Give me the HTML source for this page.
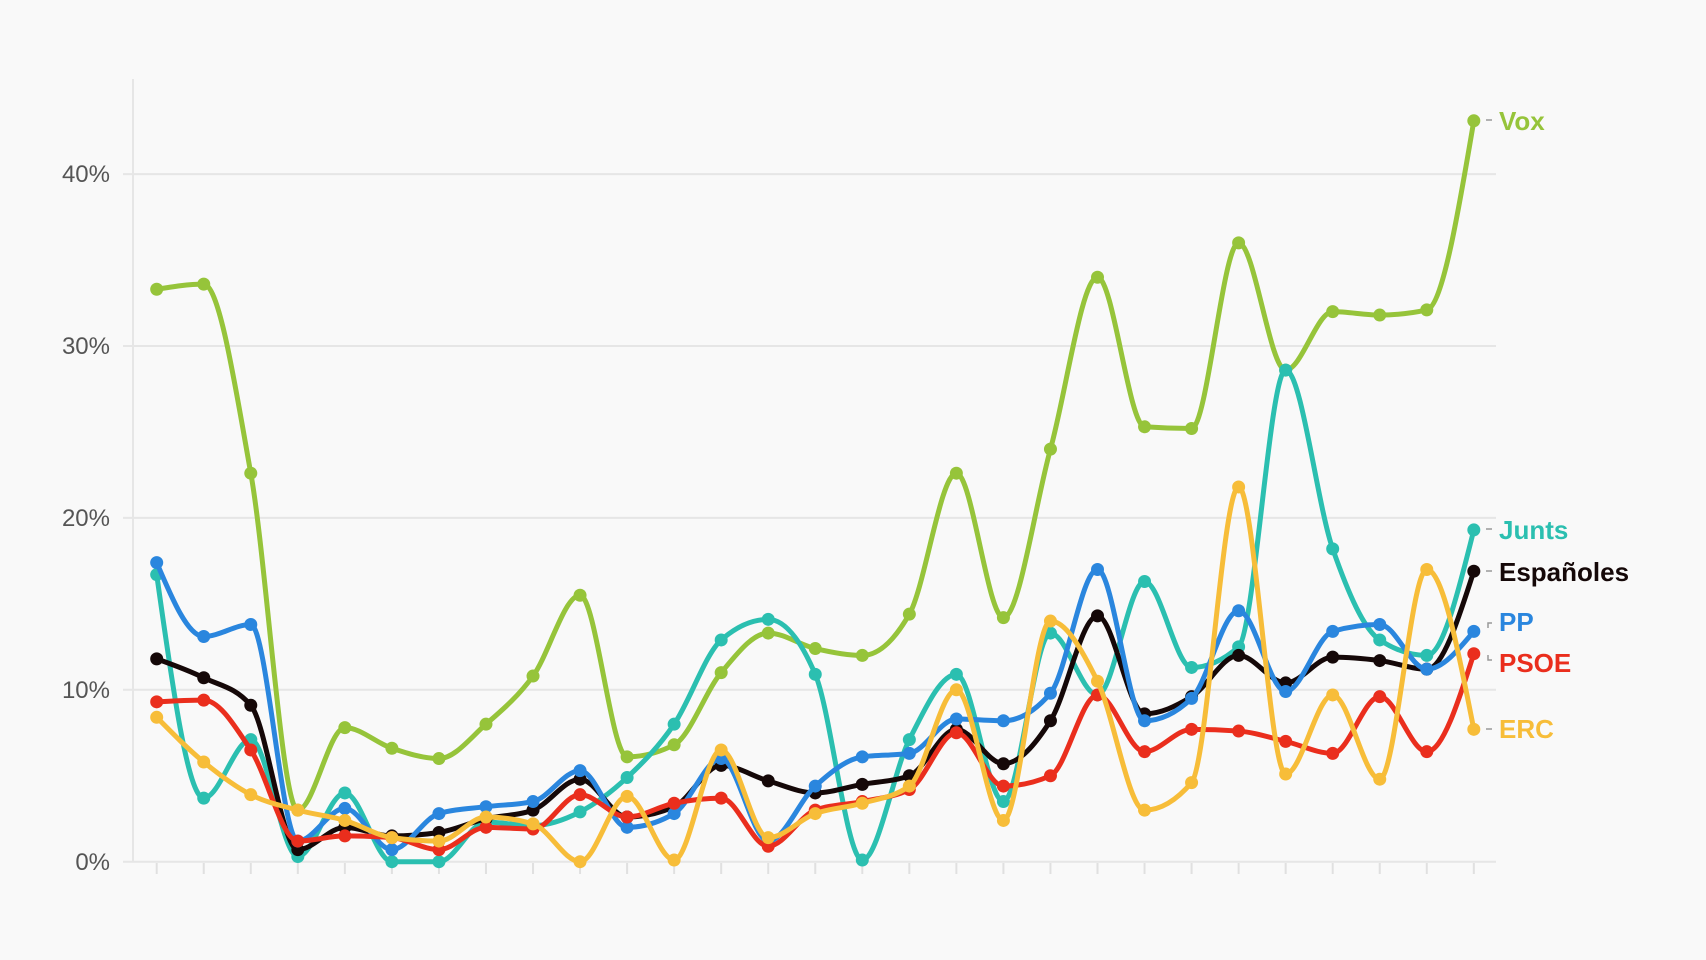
<!DOCTYPE html>
<html><head><meta charset="utf-8"><style>
html,body{margin:0;padding:0;background:#f9f9f9;}
svg{display:block;font-family:"Liberation Sans",sans-serif;}
</style></head><body>
<svg id="c" width="1706" height="960" viewBox="0 0 1706 960">
<rect width="1706" height="960" fill="#f9f9f9"/>
<g id="grid"></g>
<g font-size="24" fill="#555" text-anchor="end">
<text x="110" y="870">0%</text>
<text x="110" y="698">10%</text>
<text x="110" y="526">20%</text>
<text x="110" y="354">30%</text>
<text x="110" y="182">40%</text>
</g>
<g id="series"></g>
<g font-size="26" font-weight="bold">
<text x="1499" y="130" fill="#96c43a">Vox</text>
<text x="1499" y="539" fill="#2bbfb0">Junts</text>
<text x="1499" y="581" fill="#150808">Españoles</text>
<text x="1499" y="631" fill="#2a86de">PP</text>
<text x="1499" y="672" fill="#ea2e1d">PSOE</text>
<text x="1499" y="738" fill="#f7bd39">ERC</text>
</g>
<g stroke="#999" stroke-width="1.5" fill="none">
<path d="M1486 120h6M1486 529h6M1486 571h6M1486 729h6"/>
<path d="M1488 628v-5h4M1488 655v5h4"/>
</g>
</svg>
<script>
function Y(v){return 861.7-v*17.19;}
function X(i){return 156.7+i*47.04;}
var g=document.getElementById('grid'),h='';
for(var k=0;k<5;k++){h+='<line x1="123" x2="1496" y1="'+Y(k*10)+'" y2="'+Y(k*10)+'" stroke="#e6e6e6" stroke-width="2"/>';}
h+='<line x1="133" x2="133" y1="79" y2="862" stroke="#e6e6e6" stroke-width="2"/>';
for(var i=0;i<29;i++){h+='<line x1="'+X(i)+'" x2="'+X(i)+'" y1="863" y2="874" stroke="#e0e0e0" stroke-width="2"/>';}
g.innerHTML=h;
var S=[
["#96c43a",[33.3,33.6,22.6,3,7.8,6.6,6,8,10.8,15.5,6.1,6.8,11,13.3,12.4,12,14.4,22.6,14.2,24,34,25.3,25.2,36,28.6,32,31.8,32.1,43.1]],
["#2bbfb0",[16.7,3.7,7.1,0.3,4,0,0,2.3,2.1,2.9,4.9,8,12.9,14.1,10.9,0.1,7.1,10.9,3.5,13.3,9.7,16.3,11.3,12.5,28.6,18.2,12.9,12,19.3]],
["#150808",[11.8,10.7,9.1,0.7,2,1.5,1.7,2.5,3,4.8,2.6,3.2,5.6,4.7,4,4.5,5,7.7,5.7,8.2,14.3,8.6,9.6,12,10.4,11.9,11.7,11.2,16.9]],
["#2a86de",[17.4,13.1,13.8,1.2,3.1,0.7,2.8,3.2,3.5,5.3,2,2.8,6,1.2,4.4,6.1,6.3,8.3,8.2,9.8,17,8.2,9.5,14.6,9.9,13.4,13.8,11.2,13.4]],
["#ea2e1d",[9.3,9.4,6.5,1.2,1.5,1.4,0.7,2,1.9,3.9,2.6,3.4,3.7,0.9,3,3.5,4.2,7.5,4.4,5,9.7,6.4,7.7,7.6,7,6.3,9.6,6.4,12.1]],
["#f7bd39",[8.4,5.8,3.9,3,2.4,1.4,1.2,2.6,2.2,0,3.8,0.1,6.5,1.4,2.8,3.4,4.4,10,2.4,14,10.5,3,4.6,21.8,5.1,9.7,4.8,17,7.7]]
];
function sgn(x){return x<0?-1:1;}
var out='';
S.forEach(function(s){
 var p=s[1].map(function(v,i){return [X(i),Y(v)];}),n=p.length,hx=p[1][0]-p[0][0];
 var sl=[];for(var i=0;i<n-1;i++)sl.push((p[i+1][1]-p[i][1])/hx);
 var t=[];t[0]=sl[0];t[n-1]=sl[n-2];
 for(var i=1;i<n-1;i++){var a=sl[i-1],b=sl[i];var m=(a+b)/2;
  t[i]=(sgn(a)+sgn(b))*Math.min(Math.abs(a),Math.abs(b),0.5*Math.abs(m))||0;}
 // endpoints like d3
 t[0]=(3*sl[0]-t[1])/2; t[n-1]=(3*sl[n-2]-t[n-2])/2;
 var d='M'+p[0][0]+' '+p[0][1];
 for(var i=0;i<n-1;i++){var dx=hx/3;
  d+=' C'+(p[i][0]+dx)+' '+(p[i][1]+dx*t[i])+' '+(p[i+1][0]-dx)+' '+(p[i+1][1]-dx*t[i+1])+' '+p[i+1][0]+' '+p[i+1][1];}
 out+='<path d="'+d+'" fill="none" stroke="'+s[0]+'" stroke-width="5" stroke-linejoin="round"/>';
 p.forEach(function(q){out+='<circle cx="'+q[0]+'" cy="'+q[1]+'" r="6.5" fill="'+s[0]+'"/>';});
});
document.getElementById('series').innerHTML=out;
</script>
</body></html>
